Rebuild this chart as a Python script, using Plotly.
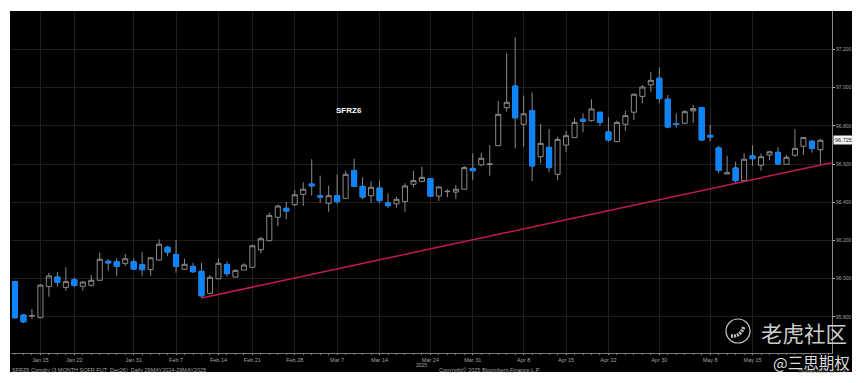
import plotly.graph_objects as go

W, H = 857, 375   # the page's 8 px body margin fills the rest of the 865x383 window
OFF = 8

dates = [
 "Jan 10","Jan 13","Jan 14","Jan 15","Jan 16","Jan 17","Jan 21","Jan 22","Jan 23","Jan 24","Jan 27","Jan 28","Jan 29","Jan 30","Jan 31",
 "Feb 3","Feb 4","Feb 5","Feb 6","Feb 7","Feb 10","Feb 11","Feb 12","Feb 13","Feb 14","Feb 18","Feb 19","Feb 20","Feb 21",
 "Feb 24","Feb 25","Feb 26","Feb 27","Feb 28","Mar 3","Mar 4","Mar 5","Mar 6","Mar 7","Mar 10","Mar 11","Mar 12","Mar 13","Mar 14",
 "Mar 17","Mar 18","Mar 19","Mar 20","Mar 21","Mar 24","Mar 25","Mar 26","Mar 27","Mar 28","Mar 31","Apr 1","Apr 2","Apr 3","Apr 4","Apr 7","Apr 8",
 "Apr 9","Apr 10","Apr 11","Apr 14","Apr 15","Apr 16","Apr 17","Apr 18","Apr 21","Apr 22","Apr 23","Apr 24","Apr 25","Apr 28","Apr 29","Apr 30",
 "May 1","May 2","May 5","May 6","May 7","May 8","May 9","May 12","May 13","May 14","May 15","May 16","May 19","May 20","May 21","May 22","May 23","May 27","May 28",
]

opens = [95.984,95.809,95.804,95.795,95.958,96.008,95.954,95.994,95.960,95.965,95.991,96.091,96.088,96.080,96.088,96.073,96.047,96.097,96.164,96.125,
 96.049,96.064,96.038,95.923,95.999,96.073,96.008,96.045,96.059,96.151,96.198,96.321,96.368,96.387,96.441,96.495,96.434,96.394,96.434,96.420,
 96.565,96.483,96.434,96.474,96.396,96.391,96.403,96.494,96.509,96.523,96.432,96.455,96.453,96.468,96.577,96.595,96.598,96.696,96.895,97.008,
 96.808,96.879,96.638,96.687,96.546,96.699,96.738,96.834,96.827,96.871,96.768,96.717,96.808,96.871,96.954,97.014,97.049,96.939,96.812,96.813,
 96.878,96.895,96.750,96.684,96.548,96.579,96.513,96.643,96.593,96.647,96.661,96.598,96.646,96.693,96.719,96.675]
highs = [95.989,95.815,95.841,95.972,96.029,96.033,96.059,96.005,95.987,96.019,96.136,96.101,96.106,96.129,96.106,96.139,96.109,96.206,96.171,96.202,
 96.104,96.083,96.083,96.019,96.104,96.088,96.049,96.080,96.176,96.219,96.345,96.387,96.401,96.464,96.504,96.625,96.539,96.486,96.546,96.565,
 96.628,96.530,96.511,96.513,96.447,96.429,96.499,96.565,96.586,96.523,96.485,96.468,96.490,96.590,96.656,96.659,96.699,96.930,97.180,97.263,
 96.958,96.975,96.809,96.783,96.743,96.773,96.842,96.865,96.939,96.871,96.845,96.827,96.879,96.970,97.014,97.083,97.106,96.961,96.865,96.883,
 96.909,96.895,96.804,96.696,96.643,96.612,96.656,96.698,96.656,96.670,96.687,96.647,96.783,96.741,96.726,96.732]
lows = [95.790,95.767,95.788,95.794,95.905,95.958,95.937,95.956,95.937,95.958,95.991,96.041,96.014,96.066,96.045,96.014,96.014,96.094,96.118,96.031,
 96.045,96.029,95.898,95.923,95.999,96.010,96.007,96.045,96.059,96.132,96.198,96.275,96.310,96.380,96.380,96.434,96.397,96.350,96.391,96.420,
 96.483,96.415,96.397,96.397,96.370,96.371,96.350,96.478,96.504,96.432,96.406,96.426,96.417,96.468,96.516,96.591,96.539,96.696,96.874,96.682,
 96.691,96.511,96.604,96.557,96.516,96.664,96.738,96.766,96.821,96.799,96.717,96.717,96.774,96.830,96.918,96.979,96.921,96.787,96.790,96.809,
 96.816,96.720,96.720,96.551,96.548,96.502,96.513,96.590,96.565,96.621,96.595,96.598,96.638,96.647,96.659,96.598]
closes = [95.795,95.774,95.807,95.966,96.014,95.981,95.984,95.965,95.982,95.991,96.101,96.082,96.064,96.104,96.050,96.047,96.109,96.180,96.139,96.064,
 96.075,96.036,95.910,96.007,96.080,96.026,96.043,96.071,96.172,96.209,96.331,96.380,96.354,96.439,96.468,96.485,96.427,96.434,96.403,96.546,
 96.483,96.427,96.478,96.408,96.382,96.415,96.485,96.513,96.530,96.432,96.480,96.457,96.468,96.581,96.565,96.630,96.600,96.860,96.923,96.842,
 96.863,96.590,96.708,96.581,96.729,96.748,96.818,96.824,96.888,96.818,96.726,96.818,96.853,96.965,97.003,97.038,96.942,96.794,96.807,96.874,
 96.890,96.726,96.741,96.567,96.554,96.513,96.625,96.628,96.638,96.664,96.600,96.635,96.682,96.738,96.682,96.724]

tick_labels = ["Jan 15","Jan 22","Jan 31","Feb 7","Feb 14","Feb 21","Feb 28","Mar 7","Mar 14","Mar 24","Mar 31",
               "Apr 8","Apr 15","Apr 22","Apr 30","May 8","May 15"]
y_ticks = [95.8, 96.0, 96.2, 96.4, 96.6, 96.8, 97.0, 97.2]
trend_x = [22, 96.3]
trend_y = [95.898, 96.607]
last_price = 96.725

idx = list(range(len(dates)))
tick_pos = [dates.index(d) for d in tick_labels]
GRAY = "#8a8a8a"
BLUE = "#0a84ff"

down = [i for i in idx if closes[i] < opens[i]]

fig = go.Figure()
fig.add_trace(go.Candlestick(
    x=idx, open=opens, high=highs, low=lows, close=closes, whiskerwidth=0,
    increasing=dict(line=dict(color=GRAY, width=1), fillcolor="rgba(0,0,0,0)"),
    decreasing=dict(line=dict(color=GRAY, width=1), fillcolor=BLUE),
    hoverinfo="skip"))
fig.add_trace(go.Candlestick(
    x=down, open=[opens[i] for i in down], close=[closes[i] for i in down],
    high=[opens[i] for i in down], low=[closes[i] for i in down], whiskerwidth=0,
    decreasing=dict(line=dict(color=BLUE, width=1), fillcolor=BLUE),
    increasing=dict(line=dict(color=BLUE, width=1), fillcolor=BLUE),
    hoverinfo="skip"))
fig.add_trace(go.Scatter(x=trend_x, y=trend_y, mode="lines",
                         line=dict(color="#c2185b", width=1.5), hoverinfo="skip"))

def px(x): return (x - OFF) / W
def py(y): return 1 - (y - OFF) / H

def note(x, y, text, size, color="#a0a0a0", anchor="center", family="Liberation Sans", **kw):
    fig.add_annotation(xref="paper", yref="paper", x=px(x), y=py(y), text=text, showarrow=False,
                       xanchor=anchor, yanchor="middle",
                       font=dict(size=size, color=color, family=family), **kw)

note(349, 110, "<b>SFRZ6</b>", 8, "#ffffff")
note(421, 364.5, "2025", 5)
note(10, 369.5, "SFRZ6 Comdty (3 MONTH SOFR FUT  Dec26)  Daily 29MAY2024-29MAY2025", 5.5, anchor="left")
note(490, 369.5, "Copyright© 2025 Bloomberg Finance L.P.", 5.5)
note(851, 370.5, "29-May-2025 10:17:47", 5, anchor="right")
note(804, 332, "老虎社区", 21.5, "#cccccc", family="Noto Sans CJK SC")
note(811, 362, "@三思期权", 15.5, "#dddddd", family="Noto Sans CJK SC")
fig.add_annotation(xref="paper", yref="y", x=px(843), y=last_price, text="96.725", showarrow=False,
                   xanchor="center", yanchor="middle", bgcolor="#f2f2f2", borderpad=1,
                   font=dict(size=5.5, color="#222222", family="Liberation Sans"))

shapes = [
    dict(type="rect", xref="paper", yref="paper", x0=px(10), x1=px(852), y0=py(372), y1=py(11),
         fillcolor="#000000", line=dict(width=0), layer="below"),
    dict(type="circle", xref="paper", yref="paper", x0=px(726), x1=px(750), y0=py(343), y1=py(319),
         line=dict(color="#c4c4c4", width=1.2)),
    dict(type="path", xref="paper", yref="paper",
         path=f"M {px(731)} {py(336)} Q {px(741)} {py(337)} {px(744)} {py(326)}",
         line=dict(color="#c4c4c4", width=3.5, dash="2px,1px"), layer="above"),
]

fig.update_layout(
    width=W, height=H, margin=dict(l=0, r=0, t=0, b=0), autosize=False,
    paper_bgcolor="#ffffff", plot_bgcolor="rgba(0,0,0,0)", showlegend=False,
    boxgap=0.15,
    shapes=shapes,
    xaxis=dict(domain=[px(11), px(832)], range=[-0.47, 96.37], rangeslider=dict(visible=False),
               tickmode="array", tickvals=tick_pos, ticktext=tick_labels,
               tickfont=dict(size=5.5, color="#a0a0a0", family="Liberation Sans"),
               ticks="outside", ticklen=1, tickcolor="#a0a0a0", tickwidth=1,
               minor=dict(ticks="outside", ticklen=1, tickcolor="#777777", dtick=1, tick0=0, showgrid=False),
               showline=True, linecolor="#777777", linewidth=1,
               showgrid=True, gridcolor="#1e1e1e", gridwidth=1, zeroline=False),
    yaxis=dict(domain=[py(353), py(11)], range=[95.6105, 97.401], side="right",
               tickmode="array", tickvals=y_ticks, ticktext=[f"{v:.3f}" for v in y_ticks],
               tickfont=dict(size=5, color="#a0a0a0", family="Liberation Sans"),
               ticks="outside", ticklen=2, tickcolor="#bbbbbb",
               showline=True, linecolor="#8a8a8a", linewidth=1,
               showgrid=True, gridcolor="#1e1e1e", gridwidth=1, zeroline=False),
)

fig.write_html("out.html", config=dict(displayModeBar=False))
